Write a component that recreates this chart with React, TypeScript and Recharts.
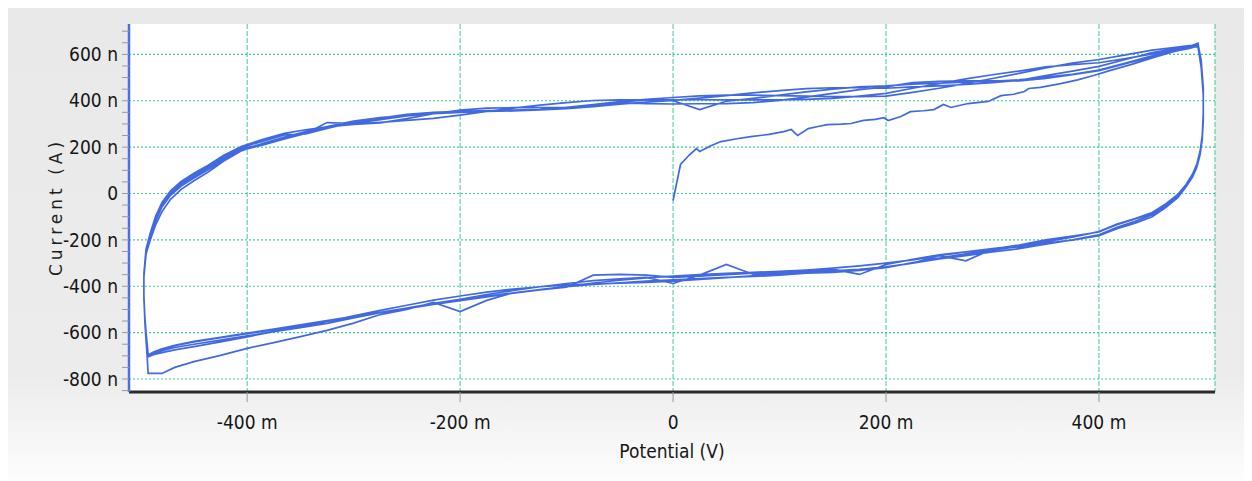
import React from 'react'
import { LineChart, Line, XAxis, YAxis, CartesianGrid, ReferenceLine } from 'recharts'

// first sweep from open circuit (mV, nA)
const initV = [
  0, 7, 15, 22, 25, 35, 45, 60, 73, 90,
  104, 111, 117, 127, 136, 145, 158, 167, 179, 190,
  198, 202, 214, 223, 235, 245, 254, 261, 277, 296,
  308, 320, 330, 334, 345, 364, 380, 395, 410, 430,
  450, 470, 485,
]
const initI = [
  -30, 125, 165, 194, 181, 205, 224, 236, 245, 255,
  267, 276, 250, 280, 289, 297, 299, 302, 315, 320,
  327, 315, 332, 353, 357, 362, 384, 371, 388, 397,
  422, 428, 440, 453, 458, 474, 490, 509, 530, 556,
  585, 612, 628,
]

// reverse sweep potentials (mV)
const downV = [
  493, 496, 498, 498, 497, 495, 492, 488, 482, 474,
  463, 450, 434, 417, 400, 375, 350, 325, 300, 275,
  250, 225, 200, 175, 150, 125, 100, 75, 50, 25,
  0, -25, -50, -75, -100, -125, -150, -175, -200, -225,
  -250, -275, -300, -325, -350, -375, -400, -425, -450, -468,
  -480, -488, -493,
]
// forward sweep potentials (mV)
const upV = [
  -494, -496, -497, -497, -495, -491, -486, -480, -472, -462,
  -450, -437, -422, -405, -385, -365, -345, -325, -300, -275,
  -250, -225, -200, -175, -150, -125, -100, -75, -50, -25,
  0, 25, 50, 75, 100, 125, 150, 175, 200, 225,
  250, 275, 300, 325, 350, 375, 400, 425, 450, 470,
  485,
]

// currents (nA) per cycle
const c1Down = [
  645, 575, 455, 345, 250, 182, 128, 84, 40, -4,
  -44, -84, -110, -135, -165, -188, -205, -225, -238, -252,
  -268, -300, -316, -327, -334, -344, -352, -358, -362, -367,
  -372, -378, -385, -392, -402, -414, -428, -461, -509, -470,
  -500, -522, -559, -590, -617, -643, -668, -698, -725, -750,
  -776, -776, -776,
]
const c1Up = [
  -700, -560, -440, -345, -260, -200, -135, -78, -25, 18,
  55, 92, 140, 185, 217, 243, 267, 289, 312, 327,
  337, 344, 350, 355, 358, 361, 366, 375, 385, 394,
  402, 411, 422, 434, 444, 452, 456, 456, 454, 460,
  464, 470, 478, 488, 508, 528, 548, 578, 608, 623,
  632,
]
const c2Down = [
  632, 545, 425, 318, 232, 168, 114, 72, 30, -18,
  -60, -100, -128, -152, -182, -201, -214, -230, -240, -252,
  -265, -284, -306, -349, -326, -336, -346, -355, -363, -370,
  -378, -383, -387, -390, -394, -402, -412, -425, -442, -460,
  -482, -504, -528, -552, -574, -596, -618, -640, -660, -674,
  -686, -695, -704,
]
const c2Up = [
  -660, -545, -445, -345, -240, -170, -98, -38, 12, 52,
  87, 121, 165, 204, 234, 259, 275, 287, 300, 307,
  315, 324, 338, 354, 368, 381, 392, 401, 404, 404,
  404, 405, 404, 404, 404, 406, 410, 420, 432, 454,
  474, 494, 512, 528, 546, 556, 564, 582, 602, 617,
  634,
]
const c3Down = [
  648, 570, 450, 338, 246, 178, 122, 80, 37, -6,
  -44, -82, -108, -132, -164, -188, -208, -228, -244, -260,
  -278, -298, -320, -332, -340, -344, -346, -348, -306, -352,
  -388, -362, -368, -376, -388, -402, -418, -436, -456, -474,
  -494, -514, -536, -560, -578, -596, -614, -632, -650, -664,
  -678, -690, -700,
]
const c3Up = [
  -655, -540, -455, -360, -262, -188, -118, -58, -8, 32,
  67, 102, 147, 187, 210, 235, 259, 306, 302, 319,
  335, 344, 350, 354, 356, 361, 372, 383, 394, 404,
  400, 362, 398, 410, 424, 438, 450, 460, 464, 472,
  476, 480, 484, 490, 502, 514, 532, 562, 594, 613,
  626,
]
const c4Down = [
  636, 552, 432, 325, 236, 172, 118, 76, 33, -12,
  -52, -92, -120, -146, -178, -200, -218, -238, -252, -268,
  -282, -300, -318, -328, -333, -337, -340, -344, -350, -356,
  -362, -352, -349, -352, -404, -416, -430, -446, -462, -478,
  -497, -514, -532, -552, -570, -588, -604, -622, -640, -656,
  -672, -686, -698,
]
const c4Up = [
  -645, -555, -448, -352, -248, -176, -106, -46, 4, 44,
  79, 114, 159, 199, 226, 253, 257, 281, 308, 325,
  341, 350, 354, 358, 360, 363, 372, 383, 396, 406,
  414, 421, 424, 424, 422, 420, 418, 418, 420, 436,
  454, 474, 496, 518, 542, 562, 578, 598, 618, 629,
  638,
]
const c5Down = [
  642, 566, 446, 335, 244, 177, 121, 79, 36, -9,
  -48, -86, -110, -134, -166, -184, -200, -222, -240, -290,
  -268, -286, -300, -312, -322, -330, -336, -340, -344, -350,
  -356, -364, -374, -386, -400, -414, -428, -444, -460, -476,
  -494, -512, -530, -548, -566, -585, -602, -620, -638, -655,
  -670, -684, -696,
]
const c5Up = [
  -650, -552, -452, -348, -252, -182, -112, -52, -2, 38,
  73, 108, 153, 193, 214, 241, 265, 287, 298, 305,
  323, 344, 360, 368, 370, 371, 372, 381, 392, 388,
  386, 387, 388, 392, 402, 416, 432, 448, 460, 478,
  484, 486, 486, 486, 496, 512, 530, 560, 590, 613,
  630,
]

const xTicks = [-400, -200, 0, 200, 400]
const yTicks = [
  -850, -800, -750, -700, -650, -600, -550, -500, -450, -400, -350, -300, -250, -200,
  -150, -100, -50, 0, 50, 100, 150, 200, 250, 300, 350, 400, 450, 500, 550, 600, 650, 700,
]
const yMajor = [-800, -600, -400, -200, 0, 200, 400, 600]

const pts = (vs: number[], is: number[]) => vs.map((v, k) => ({ v, i: is[k] }))

const data = [
  ...pts(initV, initI),
  ...pts(downV, c1Down), ...pts(upV, c1Up),
  ...pts(downV, c2Down), ...pts(upV, c2Up),
  ...pts(downV, c3Down), ...pts(upV, c3Up),
  ...pts(downV, c4Down), ...pts(upV, c4Up),
  ...pts(downV, c5Down), ...pts(upV, c5Up),
]

const gridColor = '#3fcb8f'
const tickFont = { fontFamily: '"Liberation Sans Narrow", "DejaVu Sans Condensed", sans-serif', fontSize: 19, fill: '#161616' }

const fmtX = (v: number) => (v === 0 ? '0' : `${v} m`)
const fmtY = (v: number) => (v % 200 !== 0 ? '' : v === 0 ? '0' : `${v} n`)

function YTitle(props: any) {
  const vb = props.viewBox
  const x = vb.x + 48
  const y = vb.y + vb.height / 2 - 1
  return (
    <text
      x={x}
      y={y}
      transform={`rotate(-90, ${x}, ${y})`}
      textAnchor="middle"
      dominantBaseline="central"
      style={{ fontFamily: '"DejaVu Sans", sans-serif', fontSize: 17, letterSpacing: '4px', fill: '#1e1e1e' }}
    >
      Current (A)
    </text>
  )
}

export default function App() {
  return (
    <div
      style={{
        position: 'relative',
        width: 1244,
        height: 472,
        background: 'linear-gradient(to bottom, #e9e9e9 0%, #ececec 78%, #fdfdfd 100%)',
      }}
    >
      <LineChart width={1244} height={470} data={data} margin={{ top: 16, right: 37, bottom: 0, left: 0 }}>
        <CartesianGrid horizontal={false} stroke={gridColor} strokeDasharray="5 2" fill="#ffffff" />
        {yMajor.map((y) => (
          <ReferenceLine key={y} y={y} stroke={gridColor} strokeDasharray="2 2" strokeWidth={1.2} />
        ))}
        <XAxis
          dataKey="v"
          type="number"
          domain={[-511, 509]}
          ticks={xTicks}
          tickFormatter={fmtX}
          allowDataOverflow
          height={86}
          tickSize={10}
          tickMargin={14}
          tickLine={{ stroke: '#999' }}
          axisLine={{ stroke: '#2b2b2b', strokeWidth: 3 }}
          tick={tickFont}
          label={{
            value: 'Potential (V)',
            position: 'insideBottom',
            offset: 20,
            style: { ...tickFont },
          }}
        />
        <XAxis
          xAxisId="top"
          orientation="top"
          type="number"
          domain={[-511, 509]}
          height={0}
          tick={false}
          tickLine={false}
          axisLine={{ stroke: '#111', strokeWidth: 2 }}
        />
        <YAxis
          type="number"
          domain={[-856, 731]}
          ticks={yTicks}
          interval={0}
          tickFormatter={fmtY}
          allowDataOverflow
          width={121}
          tickSize={7}
          tickMargin={4}
          tickLine={{ stroke: '#999' }}
          axisLine={{ stroke: '#4a6fe3', strokeWidth: 2.5 }}
          tick={tickFont}
          label={YTitle}
        />
        <YAxis
          yAxisId="right"
          orientation="right"
          type="number"
          domain={[-856, 731]}
          width={0}
          tick={false}
          tickLine={false}
          axisLine={{ stroke: '#111', strokeWidth: 2 }}
        />
        <Line
          type="linear"
          dataKey="i"
          stroke="#4169e1"
          strokeWidth={1.7}
          dot={false}
          activeDot={false}
          isAnimationActive={false}
        />
      </LineChart>
    </div>
  )
}
